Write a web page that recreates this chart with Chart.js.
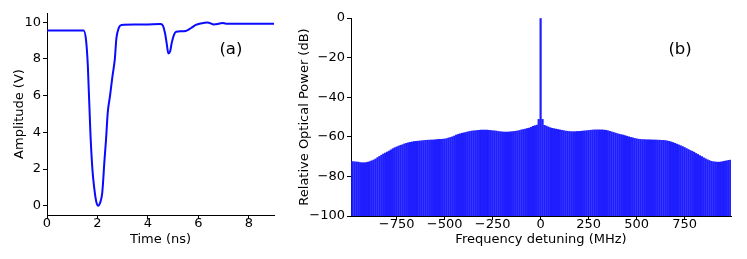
<!DOCTYPE html>
<html>
<head>
<meta charset="utf-8">
<script src="https://cdn.jsdelivr.net/npm/chart.js@4.4.1/dist/chart.umd.min.js"></script>
<style>
  html, body { margin: 0; padding: 0; background: #ffffff; }
  body { width: 747px; height: 259px; position: relative; overflow: hidden; }
  #wa { position: absolute; left: 0; top: 0; width: 300px; height: 259px; }
  #wb { position: absolute; left: 290px; top: 0; width: 457px; height: 259px; }
</style>
</head>
<body>
<div id="wa"><canvas id="ca"></canvas></div>
<div id="wb"><canvas id="cb"></canvas></div>
<script>
// ---- Panel (a): time-domain pulse ----
const timeNs = [0, 1.0, 1.45, 1.55, 1.62, 1.72, 1.80, 1.87, 1.95, 2.03, 2.10, 2.19, 2.28, 2.34, 2.41, 2.50, 2.59, 2.69, 2.75, 2.85, 2.95, 3.5, 4.0, 4.5, 4.6, 4.68, 4.75, 4.81, 4.88, 4.95, 5.03, 5.12, 5.3, 5.5, 5.7, 5.9, 6.1, 6.37, 6.5, 6.6, 6.77, 6.95, 7.1, 7.5, 8.0, 9.0];
const amplitudeV = [9.55, 9.55, 9.55, 9.0, 7.6, 4.0, 2.0, 1.0, 0.25, 0.0, 0.15, 0.7, 2.5, 3.6, 5.1, 6.0, 7.0, 8.0, 9.1, 9.7, 9.85, 9.87, 9.88, 9.9, 9.8, 9.4, 8.8, 8.3, 8.4, 8.9, 9.3, 9.48, 9.5, 9.52, 9.67, 9.85, 9.93, 9.98, 9.93, 9.88, 9.9, 9.96, 9.92, 9.92, 9.92, 9.92];
const timeTicks = [0, 2, 4, 6, 8];
const ampTicks = [0, 2, 4, 6, 8, 10];

// ---- Panel (b): optical spectrum comb ----
const freqMHz = [-990,-980,-970,-960,-950,-940,-930,-920,-910,-900,-890,-880,-870,-860,-850,-840,-830,-820,-810,-800,-790,-780,-770,-760,-750,-740,-730,-720,-710,-700,-690,-680,-670,-660,-650,-640,-630,-620,-610,-600,-590,-580,-570,-560,-550,-540,-530,-520,-510,-500,-490,-480,-470,-460,-450,-440,-430,-420,-410,-400,-390,-380,-370,-360,-350,-340,-330,-320,-310,-300,-290,-280,-270,-260,-250,-240,-230,-220,-210,-200,-190,-180,-170,-160,-150,-140,-130,-120,-110,-100,-90,-80,-70,-60,-50,-40,-30,-20,-10,0,10,20,30,40,50,60,70,80,90,100,110,120,130,140,150,160,170,180,190,200,210,220,230,240,250,260,270,280,290,300,310,320,330,340,350,360,370,380,390,400,410,420,430,440,450,460,470,480,490,500,510,520,530,540,550,560,570,580,590,600,610,620,630,640,650,660,670,680,690,700,710,720,730,740,750,760,770,780,790,800,810,820,830,840,850,860,870,880,890,900,910,920,930,940,950,960,970,980,990];
const powerDb = [
  -72.3,-72.5,-72.6,-72.7,-72.8,-73.0,-73.1,-73.1,-73.0,-72.8,
  -72.5,-72.1,-71.7,-71.2,-70.5,-69.9,-69.3,-68.7,-68.2,-67.7,
  -67.2,-66.6,-66.0,-65.5,-65.1,-64.7,-64.3,-64.0,-63.6,-63.3,
  -63.0,-62.8,-62.6,-62.4,-62.3,-62.2,-62.1,-62.0,-61.9,-61.8,
  -61.7,-61.7,-61.6,-61.6,-61.5,-61.4,-61.3,-61.3,-61.2,-61.1,
  -60.9,-60.6,-60.3,-60.0,-59.6,-59.1,-58.8,-58.5,-58.2,-58.0,
  -57.8,-57.5,-57.3,-57.1,-57.0,-56.9,-56.8,-56.7,-56.6,-56.6,
  -56.6,-56.6,-56.7,-56.8,-56.9,-57.0,-57.1,-57.3,-57.4,-57.5,
  -57.6,-57.6,-57.6,-57.5,-57.4,-57.3,-57.2,-57.0,-56.8,-56.5,
  -56.3,-56.1,-55.8,-55.6,-55.2,-54.7,-54.4,-54.1,-51.2,0,
  -51.2,-54.2,-54.6,-55.0,-55.4,-55.7,-55.9,-56.1,-56.3,-56.5,
  -56.7,-56.9,-57.1,-57.2,-57.3,-57.4,-57.4,-57.4,-57.3,-57.3,
  -57.2,-57.1,-57.0,-56.9,-56.8,-56.7,-56.6,-56.5,-56.5,-56.5,
  -56.5,-56.5,-56.6,-56.7,-56.9,-57.2,-57.5,-57.8,-58.1,-58.4,
  -58.7,-58.9,-59.1,-59.4,-59.7,-60.0,-60.3,-60.5,-60.8,-61.0,
  -61.2,-61.3,-61.4,-61.4,-61.5,-61.5,-61.5,-61.6,-61.6,-61.6,
  -61.7,-61.7,-61.8,-61.8,-61.9,-62.1,-62.3,-62.6,-62.9,-63.3,
  -63.7,-64.1,-64.5,-64.9,-65.4,-65.9,-66.4,-66.9,-67.3,-67.8,
  -68.4,-68.9,-69.5,-70.0,-70.6,-71.1,-71.6,-72.0,-72.4,-72.6,
  -72.7,-72.8,-72.8,-72.7,-72.5,-72.3,-72.1,-71.9,-71.8
];
const freqTicks = [-750, -500, -250, 0, 250, 500, 750];
const powerTicks = [-100, -80, -60, -40, -20, 0];

const FONT = 'DejaVu Sans';
const tickFont = { family: FONT, size: 13 };
const titleFont = { family: FONT, size: 13 };

const fixTicks = arr => (scale => { scale.ticks = arr.map(v => ({ value: v })); });
const fmt = v => String(v).replace('-', '\u2212');

const panelLabel = (text, xFrac, y) => ({
  id: 'panelLabel',
  afterDraw(chart) {
    const ctx = chart.ctx, a = chart.chartArea;
    ctx.save();
    ctx.font = '16.5px "' + FONT + '"';
    ctx.fillStyle = '#000';
    ctx.textAlign = 'center';
    ctx.textBaseline = 'middle';
    ctx.fillText(text, a.left + xFrac * (a.right - a.left), y);
    ctx.restore();
  }
});

function axisCommon(ticksArr, title, size, isY, titlePad) {
  return {
    type: 'linear',
    afterBuildTicks: fixTicks(ticksArr),
    afterFit: s => { if (isY) s.width = size; else s.height = size; },
    border: { display: true, color: '#000', width: 1 },
    grid: { display: true, drawOnChartArea: false, drawTicks: true, tickLength: 4, color: '#000', tickColor: '#000' },
    ticks: { color: '#000', font: tickFont, padding: isY ? 2 : -3, maxRotation: 0, autoSkip: false, callback: v => fmt(v) },
    title: { display: true, text: title, color: '#000', font: titleFont, padding: titlePad }
  };
}

const xa = axisCommon(timeTicks, 'Time (ns)', 44, false, { top: 0, bottom: 12 });
xa.min = 0; xa.max = 9;
const ya = axisCommon(ampTicks, 'Amplitude (V)', 47, true, { top: 12, bottom: 0 });
ya.min = -0.5; ya.max = 10.5;

new Chart(document.getElementById('ca'), {
  type: 'line',
  data: {
    datasets: [{
      data: timeNs.map((t, i) => ({ x: t, y: amplitudeV[i] })),
      borderColor: '#0a0aff',
      borderWidth: 2,
      pointRadius: 0,
      cubicInterpolationMode: 'monotone',
      fill: false
    }]
  },
  options: {
    responsive: true,
    maintainAspectRatio: false,
    animation: false,
    devicePixelRatio: 1,
    layout: { padding: { left: 0, right: 26, top: 13, bottom: 0 } },
    plugins: { legend: { display: false }, tooltip: { enabled: false } },
    scales: { x: xa, y: ya }
  },
  plugins: [panelLabel('(a)', 0.81, 50)]
});

const xb = axisCommon(freqTicks, 'Frequency detuning (MHz)', 43, false, { top: 0, bottom: 12 });
xb.min = -988; xb.max = 992; xb.offset = false; xb.grid.offset = false;
const yb = axisCommon(powerTicks, 'Relative Optical Power (dB)', 61, true, { top: 7, bottom: 0 });
yb.min = -100; yb.max = 0;

new Chart(document.getElementById('cb'), {
  type: 'bar',
  data: {
    datasets: [{
      data: freqMHz.map((f, i) => ({ x: f, y: [-100, powerDb[i]] })),
      backgroundColor: 'rgba(20,20,255,0.95)',
      borderWidth: 0,
      barThickness: 1.55,
      grouped: false
    }]
  },
  options: {
    responsive: true,
    maintainAspectRatio: false,
    animation: false,
    devicePixelRatio: 1,
    layout: { padding: { left: 0, right: 16, top: 18, bottom: 0 } },
    plugins: { legend: { display: false }, tooltip: { enabled: false } },
    scales: { x: xb, y: yb }
  },
  plugins: [panelLabel('(b)', 0.866, 50)]
});
</script>
</body>
</html>
